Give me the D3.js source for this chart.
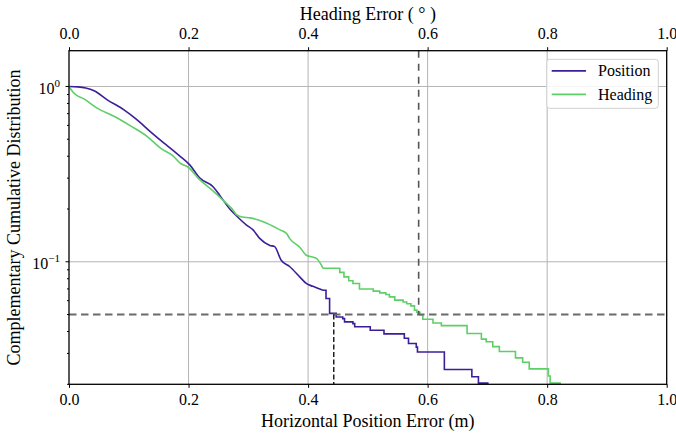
<!DOCTYPE html>
<html>
<head>
    <meta charset="utf-8">
    <title>CCDF of position and heading error</title>
    <script src="https://d3js.org/d3.v7.min.js"></script>
    <style>
        body { margin: 0; background: #fff; }
        svg text { font-family: "Liberation Serif", "Times New Roman", serif; fill: #000; }
        .grid line { stroke: #b4b4b4; stroke-width: 1; }
        .axis path { display: none; }
        .axis line { stroke: #000; stroke-width: 1; }
        .axis text { font-size: 16px; }
    </style>
</head>
<body>
<div id="chart"></div>
<script>
    // CCDF readings: smooth head (linear) and stepped tail
    const posHead = [[0, 1.0], [0.015, 0.995], [0.028, 0.980], [0.042, 0.945], [0.064, 0.839], [0.092, 0.736], [0.114, 0.645],
        [0.136, 0.553], [0.159, 0.475], [0.173, 0.435], [0.185, 0.402], [0.202, 0.357], [0.219, 0.300],
        [0.241, 0.268], [0.252, 0.240], [0.269, 0.200], [0.280, 0.183], [0.297, 0.162], [0.308, 0.152],
        [0.319, 0.136], [0.336, 0.124], [0.344, 0.122], [0.355, 0.102], [0.369, 0.094], [0.386, 0.082],
        [0.397, 0.0752], [0.408, 0.0724], [0.425, 0.0688]];
    const posTail = [[0.425, 0.0688], [0.430, 0.0617], [0.436, 0.0508], [0.447, 0.0484], [0.458, 0.0474],
        [0.461, 0.0454], [0.475, 0.0444], [0.478, 0.0426], [0.504, 0.0407], [0.527, 0.0388], [0.561, 0.0366],
        [0.568, 0.0342], [0.581, 0.0326], [0.583, 0.0306], [0.628, 0.0243], [0.674, 0.0221], [0.685, 0.0203],
        [0.702, 0.0203]];
    const headHead = [[0, 1.0], [0.008, 0.917], [0.025, 0.85], [0.047, 0.753], [0.076, 0.674], [0.103, 0.596],
        [0.131, 0.518], [0.153, 0.445], [0.174, 0.402], [0.186, 0.365], [0.200, 0.345], [0.216, 0.300],
        [0.241, 0.254], [0.263, 0.216], [0.272, 0.202], [0.280, 0.186], [0.290, 0.180], [0.303, 0.178],
        [0.325, 0.169], [0.353, 0.152], [0.364, 0.145], [0.369, 0.136], [0.386, 0.121], [0.397, 0.109],
        [0.414, 0.1045], [0.425, 0.0918]];
    const headTail = [[0.425, 0.0918], [0.453, 0.0870], [0.460, 0.0820], [0.468, 0.0780], [0.475, 0.0752],
        [0.486, 0.0700], [0.509, 0.0680], [0.520, 0.0665], [0.530, 0.0650], [0.536, 0.0631], [0.545, 0.0604],
        [0.559, 0.0590], [0.565, 0.0576], [0.572, 0.0560], [0.578, 0.0530], [0.582, 0.0515], [0.587, 0.0497],
        [0.592, 0.0470], [0.609, 0.0447], [0.623, 0.0432], [0.666, 0.0390], [0.690, 0.0362], [0.698, 0.0350],
        [0.709, 0.0328], [0.720, 0.0308], [0.747, 0.0283], [0.759, 0.0267], [0.770, 0.0245], [0.802, 0.0223],
        [0.805, 0.0203], [0.823, 0.0203]];

    const seriesNames = ["Position", "Heading"];
    const seriesColors = ["#3b1f98", "#5ecf66"];
    const level95 = 0.05;
    const pos95 = 0.443;
    const heading95 = 0.585;
    const xTicks = [0, 0.2, 0.4, 0.6, 0.8, 1.0];

    const width = 676, height = 434;
    const margin = {top: 50.7, right: 9.3, bottom: 49.7, left: 69};

    const svg = d3.select("#chart").append("svg")
        .attr("width", width)
        .attr("height", height);

    const x = d3.scaleLinear().domain([0, 1]).range([margin.left, width - margin.right]);
    const y = d3.scaleLog().domain([0.02, 1.6]).range([height - margin.bottom, margin.top]);

    const majorY = y.ticks().filter(v => Math.abs(Math.log10(v) - Math.round(Math.log10(v))) < 1e-9);
    const minorY = y.ticks().filter(v => !majorY.includes(v));

    // grid
    const grid = svg.append("g").attr("class", "grid");
    grid.selectAll(".gx").data(xTicks.slice(1, -1)).enter().append("line")
        .attr("x1", d => x(d)).attr("x2", d => x(d))
        .attr("y1", y.range()[1]).attr("y2", y.range()[0]);
    grid.selectAll(".gy").data(majorY).enter().append("line")
        .attr("x1", x.range()[0]).attr("x2", x.range()[1])
        .attr("y1", d => y(d)).attr("y2", d => y(d));

    // curves
    const lineSmooth = d3.line().x(d => x(d[0])).y(d => y(d[1])).curve(d3.curveMonotoneX);
    const lineStep = d3.line().x(d => x(d[0])).y(d => y(d[1])).curve(d3.curveStepAfter);
    [[posHead, posTail], [headHead, headTail]].forEach((s, i) => {
        svg.append("path").attr("d", lineSmooth(s[0]))
            .attr("fill", "none").attr("stroke", seriesColors[i]).attr("stroke-width", 1.6);
        svg.append("path").attr("d", lineStep(s[1]))
            .attr("fill", "none").attr("stroke", seriesColors[i]).attr("stroke-width", 1.6);
    });

    // 95% reference lines
    svg.append("line")
        .attr("x1", x.range()[0]).attr("x2", x.range()[1])
        .attr("y1", y(level95)).attr("y2", y(level95))
        .attr("stroke", "#6a6a6a").attr("stroke-width", 2).attr("stroke-dasharray", "7.5,4.5");
    svg.append("line")
        .attr("x1", x(heading95)).attr("x2", x(heading95))
        .attr("y1", y.range()[1]).attr("y2", y(level95))
        .attr("stroke", "#555").attr("stroke-width", 1.6).attr("stroke-dasharray", "7,6");
    svg.append("line")
        .attr("x1", x(pos95)).attr("x2", x(pos95))
        .attr("y1", y(level95)).attr("y2", y.range()[0])
        .attr("stroke", "#000").attr("stroke-width", 1.3).attr("stroke-dasharray", "5,2.5");

    // axes
    svg.append("g").attr("class", "axis")
        .attr("transform", `translate(0,${y.range()[0]})`)
        .call(d3.axisBottom(x).tickValues(xTicks).tickFormat(d3.format(".1f")).tickSize(3.5).tickPadding(6));
    svg.append("g").attr("class", "axis")
        .attr("transform", `translate(0,${y.range()[1]})`)
        .call(d3.axisTop(x).tickValues(xTicks).tickFormat(d3.format(".1f")).tickSize(3.5).tickPadding(8));

    const yAxis = svg.append("g").attr("class", "axis");
    yAxis.selectAll(".mj").data(majorY).enter().append("line")
        .attr("x1", x.range()[0] - 3.5).attr("x2", x.range()[0])
        .attr("y1", d => y(d)).attr("y2", d => y(d));
    yAxis.selectAll(".mn").data(minorY).enter().append("line")
        .attr("x1", x.range()[0] - 2).attr("x2", x.range()[0])
        .attr("y1", d => y(d)).attr("y2", d => y(d))
        .attr("stroke-width", 0.8);
    const yLab = yAxis.selectAll(".lab").data(majorY).enter().append("text")
        .attr("x", x.range()[0] - 9)
        .attr("y", d => y(d) + 7.5)
        .attr("text-anchor", "end");
    yLab.append("tspan").text("10");
    yLab.append("tspan").attr("dy", -7).attr("font-size", 11)
        .text(d => { const e = Math.round(Math.log10(d)); return e < 0 ? "\u2212" + (-e) : e; });

    // frame
    svg.append("rect")
        .attr("x", x.range()[0]).attr("y", y.range()[1])
        .attr("width", x.range()[1] - x.range()[0])
        .attr("height", y.range()[0] - y.range()[1])
        .attr("fill", "none").attr("stroke", "#000").attr("stroke-width", 1.3);

    // labels
    svg.append("text")
        .attr("x", (x.range()[0] + x.range()[1]) / 2).attr("y", 427)
        .attr("text-anchor", "middle").attr("font-size", 18)
        .text("Horizontal Position Error (m)");
    svg.append("text")
        .attr("x", (x.range()[0] + x.range()[1]) / 2).attr("y", 19.5)
        .attr("text-anchor", "middle").attr("font-size", 18)
        .text("Heading Error ( \u00b0 )");
    svg.append("text")
        .attr("transform", `translate(20,${(y.range()[0] + y.range()[1]) / 2}) rotate(-90)`)
        .attr("text-anchor", "middle").attr("font-size", 18)
        .text("Complementary Cumulative Distribution");

    // legend
    const legend = svg.append("g")
        .attr("transform", `translate(${x.range()[1] - 120},${y.range()[1] + 8.6})`);
    legend.append("rect")
        .attr("x", 0).attr("y", 0).attr("width", 111.6).attr("height", 49)
        .attr("rx", 3).attr("fill", "#fff").attr("fill-opacity", 0.85)
        .attr("stroke", "#d0d0d0").attr("stroke-width", 1);
    seriesNames.forEach((name, i) => {
        const row = legend.append("g").attr("transform", `translate(0,${11.5 + i * 23.6})`);
        row.append("line").attr("x1", 5).attr("x2", 39.3)
            .attr("stroke", seriesColors[i]).attr("stroke-width", 1.8);
        row.append("text").attr("x", 51.3).attr("y", 5.5).attr("font-size", 16).text(name);
    });
</script>
</body>
</html>
